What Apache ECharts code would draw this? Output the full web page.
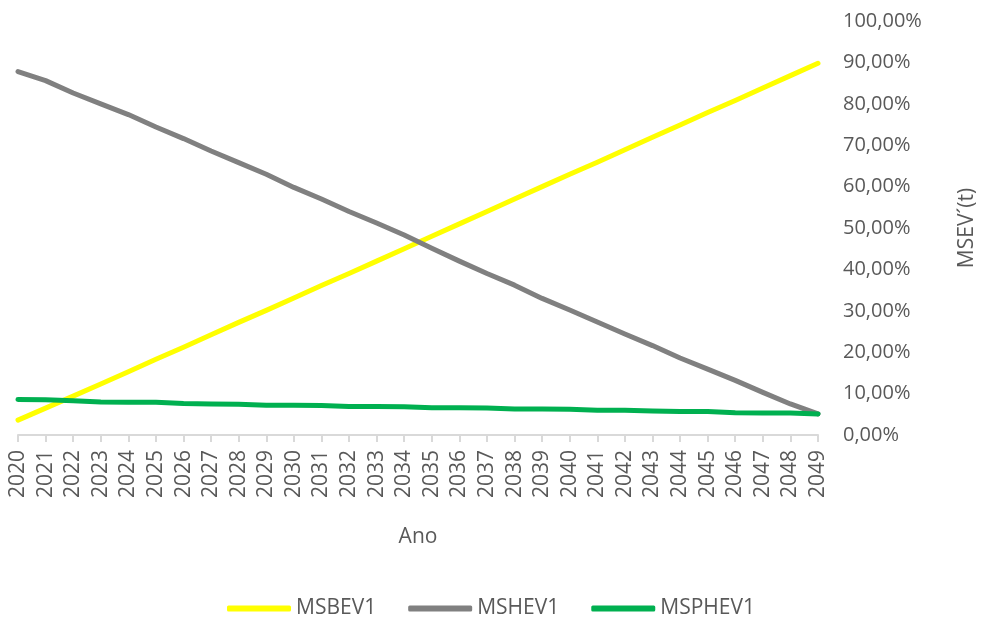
<!DOCTYPE html>
<html>
<head>
<meta charset="utf-8">
<title>MSEV´(t)</title>
<script src="https://cdn.jsdelivr.net/npm/echarts@6/dist/echarts.min.js"></script>
<style>
  html, body { margin: 0; padding: 0; background: #ffffff; }
  #chart { width: 982px; height: 624px; }
</style>
</head>
<body>
<div id="chart"></div>
<script>
// Years on the horizontal axis
const years = [
  '2020','2021','2022','2023','2024','2025','2026','2027','2028','2029',
  '2030','2031','2032','2033','2034','2035','2036','2037','2038','2039',
  '2040','2041','2042','2043','2044','2045','2046','2047','2048','2049'
];

// Market shares (%) per vehicle type
const msbev1 = [
  3.6, 6.5, 9.4, 12.3, 15.3, 18.3, 21.2, 24.2, 27.2, 30.1,
  33.1, 36.1, 39.0, 42.0, 45.0, 48.0, 51.0, 54.0, 57.0, 60.0,
  63.0, 65.9, 68.9, 71.9, 74.9, 77.9, 80.8, 83.8, 86.8, 89.8
];
const mshev1 = [
  87.8, 85.6, 82.6, 80.0, 77.4, 74.4, 71.6, 68.6, 65.8, 63.0,
  59.8, 57.0, 54.0, 51.2, 48.3, 45.1, 42.0, 39.0, 36.2, 33.0,
  30.2, 27.3, 24.4, 21.6, 18.6, 15.9, 13.2, 10.3, 7.5, 5.1
];
const msphev1 = [
  8.6, 8.5, 8.3, 8.0, 7.9, 7.9, 7.6, 7.5, 7.4, 7.2,
  7.2, 7.1, 6.9, 6.9, 6.8, 6.6, 6.6, 6.5, 6.3, 6.3,
  6.2, 6.0, 6.0, 5.8, 5.7, 5.7, 5.4, 5.3, 5.3, 5.1
];

const FONT = '"Open Sans", sans-serif';
const TEXT = '#595959';

const chart = echarts.init(document.getElementById('chart'), null, { renderer: 'canvas' });

function lineSeries(name, data, color) {
  return {
    name: name,
    type: 'line',
    data: data,
    showSymbol: false,
    symbol: 'none',
    smooth: false,
    lineStyle: { color: color, width: 5, cap: 'round', join: 'round' },
    itemStyle: { color: color },
    emphasis: { disabled: true },
    animation: false
  };
}

chart.setOption({
  backgroundColor: '#ffffff',
  animation: false,
  textStyle: { fontFamily: FONT },
  grid: {
    left: 18, right: 164, top: 21, bottom: 189,
    containLabel: false,
    outerBoundsMode: 'none'
  },
  legend: {
    bottom: 0,
    left: 'center',
    icon: 'roundRect',
    itemWidth: 64,
    itemHeight: 6,
    itemGap: 32,
    textStyle: { color: TEXT, fontSize: 21, fontFamily: FONT },
    data: ['MSBEV1', 'MSHEV1', 'MSPHEV1']
  },
  xAxis: {
    type: 'category',
    data: years,
    boundaryGap: false,
    name: 'Ano',
    nameLocation: 'middle',
    nameGap: 92,
    nameTextStyle: { color: TEXT, fontSize: 21, fontFamily: FONT },
    axisLine: { show: true, lineStyle: { color: '#d9d9d9', width: 2 } },
    axisTick: { show: true, alignWithLabel: true, length: 7, lineStyle: { color: '#d9d9d9', width: 2 } },
    axisLabel: {
      interval: 0,
      rotate: 90,
      margin: 15,
      color: TEXT,
      fontSize: 21,
      fontFamily: FONT
    },
    splitLine: { show: false }
  },
  yAxis: {
    type: 'value',
    position: 'right',
    min: 0,
    max: 100,
    interval: 10,
    name: 'MSEV´(t)',
    nameLocation: 'middle',
    nameGap: 139,
    nameRotate: 90,
    nameTextStyle: { color: TEXT, fontSize: 21, fontFamily: FONT },
    axisLine: { show: false },
    axisTick: { show: false },
    splitLine: { show: false },
    axisLabel: {
      margin: 25,
      color: TEXT,
      fontSize: 20,
      fontFamily: FONT,
      formatter: function (v) { return v.toFixed(2).replace('.', ',') + '%'; }
    }
  },
  series: [
    lineSeries('MSBEV1', msbev1, '#ffff00'),
    lineSeries('MSHEV1', mshev1, '#808080'),
    lineSeries('MSPHEV1', msphev1, '#00b050')
  ]
});
</script>
</body>
</html>
